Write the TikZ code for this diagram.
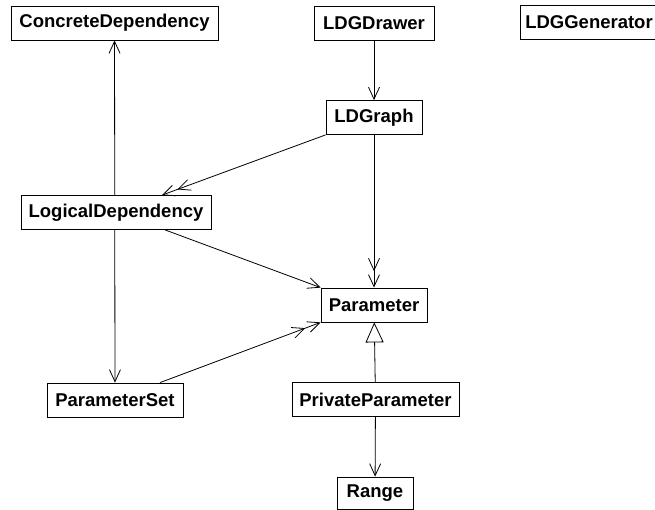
\documentclass[tikz,border=0pt]{standalone}
\usepackage{fontspec}
\setmainfont{Liberation Sans}
\usetikzlibrary{calc,arrows.meta}
\begin{document}
\begin{tikzpicture}[x=1pt,y=-1pt,
  cls/.style={draw,fill=white,line width=.8pt,font=\bfseries\fontsize{18.5}{18.5}\selectfont,
    minimum height=34pt,inner sep=1pt,minimum width=#1},
  nav/.style={line width=.8pt,-{Straight Barb[length=12pt,width=11pt]}},
  navtwo/.style={line width=.8pt,-{Straight Barb[length=12pt,width=11pt,sep=3pt]Straight Barb[length=12pt,width=11pt]}},
  gen/.style={line width=.8pt,-{Triangle[open,length=20pt,width=18pt,fill=white]}}]
\useasboundingbox (0,0) rectangle (655,510);

\node[cls=207pt] (concrete) at (114.5,23) {ConcreteDependency};
\node[cls=136pt] (pset) at (115,400) {ParameterSet};

% association running behind LogicalDependency
\draw[line width=.8pt,{Straight Barb[length=12pt,width=11pt]}-{Straight Barb[length=12pt,width=11pt]}] (concrete) -- (pset);

\node[cls=120pt] (drawer) at (374,23) {LDGDrawer};
\node[cls=137pt] (generator) at (589,22.5) {LDGGenerator};
\node[cls=96pt] (graph) at (374,117.5) {LDGraph};
\node[cls=190pt] (logic) at (116,212.5) {LogicalDependency};
\node[cls=106pt] (param) at (374,305) {Parameter};
\node[cls=167pt] (priv) at (375.5,399.5) {PrivateParameter};
\node[cls=76pt,minimum height=32pt] (range) at (375,493) {Range};

\draw[nav] (drawer) -- (graph);
\draw[navtwo] (graph.south west) -- ([xshift=46pt]logic.north);
\draw[navtwo] (graph) -- (param);
\draw[nav] ([xshift=49pt]logic.south) -- (param.north west);
\draw[navtwo] ([xshift=45pt]pset.north) -- (param.south west);
\draw[gen] (priv) -- (param);
\draw[nav] (priv) -- (range);

\end{tikzpicture}
\end{document}
